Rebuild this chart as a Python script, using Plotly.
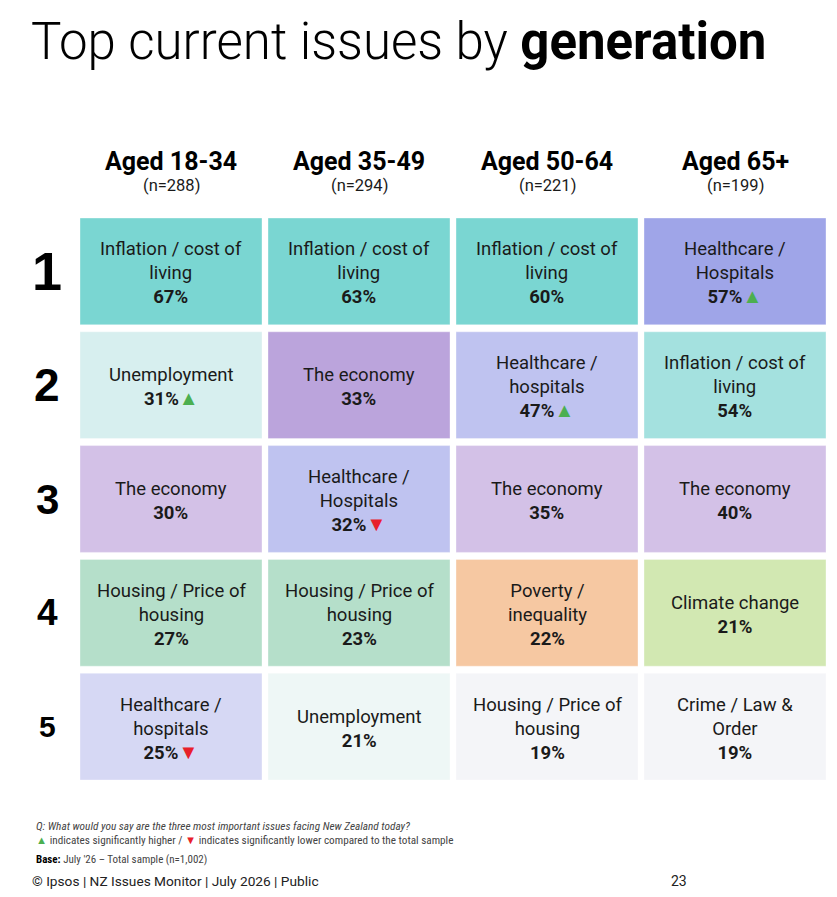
import plotly.graph_objects as go

groups = ["Aged 18-34", "Aged 35-49", "Aged 50-64", "Aged 65+"]
sample_n = ["(n=288)", "(n=294)", "(n=221)", "(n=199)"]
ranks = ["1", "2", "3", "4", "5"]

# issue label per rank (rows) and generation (columns)
issues = [
    ["Inflation / cost of<br>living", "Inflation / cost of<br>living", "Inflation / cost of<br>living", "Healthcare /<br>Hospitals"],
    ["Unemployment", "The economy", "Healthcare /<br>hospitals", "Inflation / cost of<br>living"],
    ["The economy", "Healthcare /<br>Hospitals", "The economy", "The economy"],
    ["Housing / Price of<br>housing", "Housing / Price of<br>housing", "Poverty /<br>inequality", "Climate change"],
    ["Healthcare /<br>hospitals", "Unemployment", "Housing / Price of<br>housing", "Crime / Law &<br>Order"],
]
pct = [
    [67, 63, 60, 57],
    [31, 33, 47, 54],
    [30, 32, 35, 40],
    [27, 23, 22, 21],
    [25, 21, 19, 19],
]
# significance vs total sample: 1 higher, -1 lower, 0 none
sig = [
    [0, 0, 0, 1],
    [1, 0, 1, 0],
    [0, -1, 0, 0],
    [0, 0, 0, 0],
    [-1, 0, 0, 0],
]
cell_colors = [
    ["#7AD6D2", "#7AD6D2", "#7AD6D2", "#9FA5E8"],
    ["#D7EFEF", "#BBA4DC", "#BFC3F0", "#A4E1DF"],
    ["#D3C1E7", "#BFC3F0", "#D3C1E7", "#D3C1E7"],
    ["#B5DFCA", "#B5DFCA", "#F6C8A2", "#D2E8B2"],
    ["#D6D8F4", "#EEF7F6", "#F4F5F8", "#F4F5F8"],
]
rank_sizes = [54, 46, 42, 37, 30]

UP = "<span style='color:#4CAF50;font-size:20px'>▲</span>"
DOWN = "<span style='color:#E8202A;font-size:20px'>▼</span>"

# the page body has an 8px margin, so the figure starts at (8, 8)
OFF = 8
W, H = 829, 889
L, R, T, B = 72, 11, 210, 117
cw = 182 / 188
rh = 107 / 114


def py(p):
    # page pixel y -> paper y
    return (H - B - (p - OFF)) / (H - T - B)


def px(p):
    return (p - OFF - L) / (W - L - R)


fig = go.Figure()
fig.add_trace(go.Scatter(x=[0], y=[0], mode="markers", marker=dict(opacity=0), hoverinfo="skip", showlegend=False))

for r in range(len(ranks)):
    for c in range(len(groups)):
        fig.add_shape(type="rect", xref="x", yref="y", x0=c, x1=c + cw, y0=r, y1=r + rh,
                      fillcolor=cell_colors[r][c], line=dict(width=1, color="rgba(255,255,255,0.35)"), layer="below")
        mark = UP if sig[r][c] == 1 else DOWN if sig[r][c] == -1 else ""
        fig.add_annotation(x=c + cw / 2, y=r + rh / 2, xref="x", yref="y", yanchor="middle", yshift=-2,
                           text=issues[r][c] + "<br><b>" + str(pct[r][c]) + "%</b>" + mark,
                           showarrow=False, align="center",
                           font=dict(family="Roboto", size=18.5, color="#1a1a1a"))
    fig.add_annotation(x=px(47), y=r + rh / 2, xref="paper", yref="y", text="<b>" + ranks[r] + "</b>",
                       showarrow=False, xanchor="center", yanchor="middle",
                       font=dict(family="Liberation Sans", size=rank_sizes[r], color="black"))

for c in range(len(groups)):
    fig.add_annotation(x=c + cw / 2, y=py(161), xref="x", yref="paper", yanchor="middle", text="<b>" + groups[c] + "</b>",
                       showarrow=False, font=dict(family="Roboto", size=25, color="black"))
    fig.add_annotation(x=c + cw / 2, y=py(186), xref="x", yref="paper", yanchor="middle", text=sample_n[c],
                       showarrow=False, font=dict(family="Roboto", size=16.5, color="#1a1a1a"))

fig.add_annotation(x=px(29), y=py(41), xref="paper", yref="paper", xanchor="left", yanchor="middle",
                   text="Top current issues by <b>generation</b>", showarrow=False,
                   font=dict(family="Roboto", size=51, color="black", weight=300))

foot = dict(family="Roboto Condensed, Roboto", color="#444")
fig.add_annotation(x=px(34), y=py(827), xref="paper", yref="paper", xanchor="left", yanchor="middle", showarrow=False,
                   text="<i>Q: What would you say are the three most important issues facing New Zealand today?</i>",
                   font=dict(size=11.3, **foot))
fig.add_annotation(x=px(34), y=py(840), xref="paper", yref="paper", xanchor="left", yanchor="middle", showarrow=False,
                   text="<span style='color:#4CAF50'>▲</span> indicates significantly higher / "
                        "<span style='color:#E8202A'>▼</span> indicates significantly lower compared to the total sample",
                   font=dict(size=11.2, **foot))
fig.add_annotation(x=px(34), y=py(859), xref="paper", yref="paper", xanchor="left", yanchor="middle", showarrow=False,
                   text="<b style='color:black'>Base:</b> July '26 – Total sample (n=1,002)",
                   font=dict(size=11, **foot))
fig.add_annotation(x=px(30), y=py(881), xref="paper", yref="paper", xanchor="left", yanchor="middle", showarrow=False,
                   text="© Ipsos | NZ Issues Monitor | July 2026 | Public",
                   font=dict(family="Roboto", size=13.7, color="#222"))
fig.add_annotation(x=px(679), y=py(881), xref="paper", yref="paper", xanchor="center", yanchor="middle", showarrow=False,
                   text="23", font=dict(family="Roboto", size=14, color="#222"))

fig.update_xaxes(range=[0, 4 - 6 / 188], visible=False, fixedrange=True)
fig.update_yaxes(range=[5 - 7 / 114, 0], visible=False, fixedrange=True)
fig.update_layout(width=W, height=H, margin=dict(l=L, r=R, t=T, b=B),
                  plot_bgcolor="white", paper_bgcolor="white", showlegend=False)
fig.write_html("out.html")
